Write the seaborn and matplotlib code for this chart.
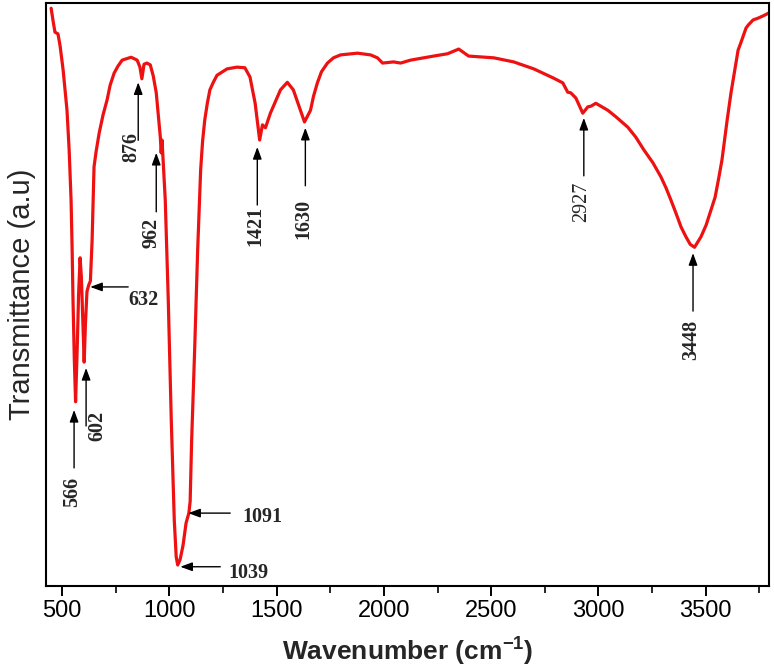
import matplotlib
matplotlib.use("Agg")
import matplotlib.pyplot as plt
import numpy as np
import pandas as pd
import seaborn as sns
from matplotlib.ticker import MultipleLocator, AutoMinorLocator

# FTIR spectrum
wavenumber = [449, 460, 467, 481, 491, 505, 514, 523, 533, 542, 547, 551, 557, 563,
              570, 577, 584, 590, 596, 603, 609, 616, 624, 632, 640, 649, 659, 673,
              691, 710, 724, 743, 761, 780, 822, 850, 863, 872, 882, 895, 911, 925,
              939, 953, 958, 962, 966, 971, 981, 995, 1009, 1023, 1032, 1039, 1050, 1064,
              1078, 1091, 1097, 1104, 1118, 1132, 1146, 1155, 1165, 1177, 1189, 1205,
              1222, 1269, 1315, 1352, 1376, 1400, 1421, 1434, 1448, 1471, 1518, 1550,
              1578, 1611, 1630, 1658, 1672, 1690, 1709, 1737, 1765, 1798, 1877, 1938,
              1970, 1994, 2045, 2078, 2124, 2232, 2297, 2349, 2395, 2512, 2605, 2699,
              2792, 2834, 2857, 2871, 2895, 2927, 2951, 2965, 2988, 3044, 3081, 3137,
              3174, 3212, 3254, 3291, 3315, 3338, 3361, 3385, 3408, 3428, 3448, 3478,
              3502, 3525, 3544, 3562, 3576, 3600, 3618, 3632, 3651, 3665, 3688, 3698,
              3721, 3744, 3768, 3795]
transmittance = [99.1, 96.5, 95.0, 94.7, 92.6, 88.5, 85.1, 81.6, 74.8, 66.2, 57.6, 49.1,
                 39.0, 31.6, 40.0, 50.0, 56.3, 53.0, 46.0, 38.4, 45.0, 50.5, 51.6, 52.3,
                 59.3, 71.9, 74.6, 77.7, 80.8, 83.4, 85.9, 88.0, 89.2, 90.2, 90.7, 90.2,
                 89.0, 87.0, 89.5, 89.7, 89.4, 87.5, 84.6, 79.1, 77.0, 74.3, 76.5, 73.1,
                 66.2, 49.1, 28.5, 11.3, 5.0, 3.6, 4.5, 7.0, 10.8, 12.5, 14.5, 25.0, 40.5,
                 57.6, 71.4, 76.3, 79.9, 82.8, 85.1, 86.4, 87.6, 88.7, 89.0, 88.9, 87.3,
                 82.8, 76.5, 79.1, 78.6, 81.1, 85.1, 86.4, 85.1, 81.6, 79.6, 81.6, 84.0,
                 86.3, 88.2, 89.7, 90.6, 91.1, 91.4, 91.1, 90.6, 89.7, 89.9, 89.7, 90.2,
                 90.9, 91.3, 92.1, 90.9, 90.6, 89.9, 88.7, 87.1, 86.3, 84.7, 84.6, 83.7,
                 81.1, 82.2, 82.3, 82.8, 81.6, 80.5, 78.7, 77.0, 74.8, 72.6, 70.2, 68.3,
                 66.2, 64.0, 61.6, 59.9, 58.6, 58.1, 59.9, 61.9, 64.5, 66.7, 70.2, 73.1,
                 79.9, 84.6, 87.7, 91.9, 93.3, 95.7, 96.2, 97.1, 97.4, 97.8, 98.3]

# peak labels: text, arrow tip (wn, T), direction
peak_labels = ["566", "602", "876", "962", "1421", "1630", "2927", "3448", "632", "1091", "1039"]
tip_wn = [556, 612, 855, 939, 1410, 1634, 2932, 3441, 631, 1088, 1051]
tip_t = [30.2, 37.4, 86.4, 74.3, 75.3, 78.6, 80.3, 57.1, 51.3, 12.5, 3.3]
vertical = [True, True, True, True, True, True, True, True, False, False, False]
bold = [True, True, True, True, True, True, False, True, True, True, True]

df = pd.DataFrame({"wn": wavenumber, "T": transmittance})

sns.set_style("ticks")
plt.rcParams["font.family"] = ["Liberation Sans", "DejaVu Sans"]
plt.rcParams["mathtext.fontset"] = "custom"
plt.rcParams["mathtext.rm"] = "Liberation Sans"
plt.rcParams["mathtext.bf"] = "Liberation Sans:bold"

fig = plt.figure(figsize=(7.74, 6.71), dpi=100)
ax = fig.add_axes([0.0594, 0.1267, 0.9341, 0.8688])

sns.lineplot(data=df, x="wn", y="T", color="#ee1111", lw=2.3, sort=False,
             estimator=None, ax=ax, solid_joinstyle="round", solid_capstyle="round")

ax.set_xlim(425, 3795)
ax.set_ylim(0, 100)
ax.set_yticks([])
ax.xaxis.set_major_locator(MultipleLocator(500))
ax.xaxis.set_minor_locator(AutoMinorLocator(2))
ax.tick_params(axis="x", which="major", direction="out", length=7, width=1.4,
               labelsize=17, pad=3, colors="black")
ax.tick_params(axis="x", which="minor", direction="out", length=5, width=1.4)
for sp in ax.spines.values():
    sp.set_linewidth(1.5)
    sp.set_color("black")

ax.set_xlabel(r"Wavenumber (cm$^{\mathbf{-1}}$)", fontsize=19, fontweight="bold", labelpad=9)
ax.set_ylabel("Transmittance (a.u)", fontsize=21, labelpad=7)

arrow = dict(arrowstyle="-|>,head_length=0.6,head_width=0.22", color="black", lw=1,
             shrinkA=0, shrinkB=0, mutation_scale=12)
serif = ["Liberation Serif", "DejaVu Serif"]

for lab, x, y, vert, b in zip(peak_labels, tip_wn, tip_t, vertical, bold):
    w = "bold" if b else "normal"
    if vert:
        ln = 59 if lab == "962" else 58
        ax.annotate("", xy=(x, y), xytext=(0, -ln), textcoords="offset pixels",
                    arrowprops=arrow)
        dx = {"602": 11, "876": -7, "962": -5, "566": -2}.get(lab, -2)
        dy = {"566": 82, "602": 58, "876": 65, "962": 80, "1421": 79,
              "1630": 91, "2927": 84, "3448": 87}[lab]
        ax.annotate(lab, xy=(x, y), xytext=(dx, -dy), textcoords="offset pixels",
                    rotation=90, ha="center", va="center", fontsize=14.5,
                    fontweight=w, family=serif)
    else:
        ln = {"632": 38, "1091": 42, "1039": 40}[lab]
        ax.annotate("", xy=(x, y), xytext=(ln, 0), textcoords="offset pixels",
                    arrowprops=arrow)
        dx = {"632": 53, "1091": 74, "1039": 68}[lab]
        dy = {"632": 13, "1091": 4, "1039": 6}[lab]
        ax.annotate(lab, xy=(x, y), xytext=(dx, -dy), textcoords="offset pixels",
                    ha="center", va="center", fontsize=14.5, fontweight=w, family=serif)

fig.savefig("out.png", dpi=100)
